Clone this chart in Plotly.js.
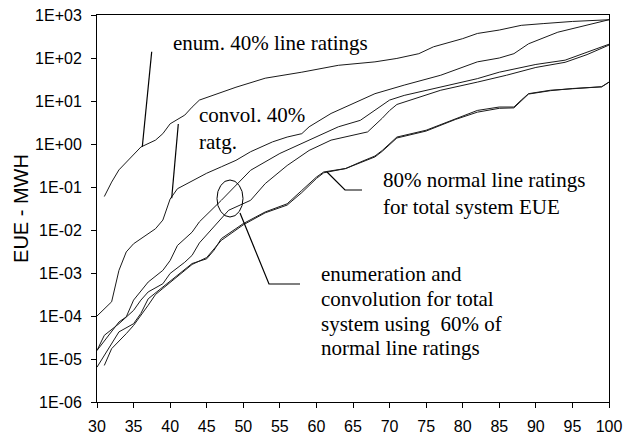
<!DOCTYPE html>
<html>
<head>
<meta charset="utf-8">
<script src="https://cdn.plot.ly/plotly-3.0.1.min.js"></script>
<style>html,body{margin:0;padding:0;background:#fff;}#chart{width:634px;height:435px;}</style>
</head>
<body>
<div id="chart"></div>
<script>
// enumeration, 40% line ratings
const xEnum40 = [31,32,33,35,36,38,39,40,42,43,44,49,53,58,63,68,71,74,76,80,82,85,88,91,95,100];
const yEnum40 = [0.060,0.13,0.25,0.55,0.85,1.23,1.74,2.95,4.7,7.2,10.5,20.9,33.9,46.8,67.6,81.3,97.7,126,182,282,372,447,575,631,708,776];
// convolution, 40% line ratings
const xConv40 = [30,32,33,34,35,37,38,39,40,41,43,45,47,49,51,54,56,58,59,60,62,65,68,72,77,82,85,87,89,93,100];
const yConv40 = [1.0e-4,2.14e-4,1.15e-3,3.09e-3,4.79e-3,7.94e-3,1.07e-2,1.70e-2,5.25e-2,9.12e-2,0.141,0.209,0.295,0.417,0.661,1.12,1.45,1.74,2.51,3.16,5.13,8.71,14.8,23.4,39.8,81.3,100,126,214,398,776];
// 60% of normal line ratings (two methods)
const x60a = [30,32,33,34,35,37,39,40,41,43,44,47,49,51,55,58,60,63,66,68,70,72,77,82,85,90,94,97,100];
const y60a = [1.58e-5,4.27e-5,7.24e-5,9.55e-5,2.34e-4,6.17e-4,1.15e-3,1.95e-3,4.37e-3,8.91e-3,1.55e-2,4.90e-2,0.110,0.245,0.603,1.02,1.45,2.51,3.55,6.03,10.5,13.5,21.4,33.1,46.8,70.8,89.1,138,209];
const x60b = [30,31,33,35,36,37,39,40,42,43,44,46,48,51,53,56,58,59,62,63,67,69,70,71,77,82,86,90,94,97,100];
const y60b = [1.58e-5,3.55e-5,6.61e-5,1.35e-4,2.34e-4,3.63e-4,5.62e-4,9.77e-4,1.78e-3,2.57e-3,5.01e-3,1.17e-2,2.88e-2,4.90e-2,0.120,0.316,0.525,0.708,1.23,1.35,1.91,3.98,6.0,8.3,17.8,27.5,39.8,60.3,79.4,120,200];
// 80% normal line ratings (two methods)
const x80a = [30,32,33,35,36,37,39,41,43,45,46,47,50,53,56,58,60,61,64,66,68,69,71,75,79,82,85,87,88,89,92,95,99,100];
const y80a = [6.46e-6,2.29e-5,4.27e-5,6.61e-5,1.15e-4,2.51e-4,4.68e-4,8.91e-4,1.66e-3,2.14e-3,3.39e-3,6.31e-3,1.41e-2,2.63e-2,4.07e-2,8.32e-2,0.170,0.224,0.269,0.380,0.525,0.708,1.45,2.09,3.89,6.03,7.24,7.24,10.5,14.8,17.8,19.5,21.4,27.5];
const x80b = [31,32,34,35,37,38,39,41,43,45,46,47,50,53,56,58,60,61,64,66,68,69,71,75,79,82,85,87,88,89,92,95,99,100];
const y80b = [7.08e-6,1.74e-5,3.89e-5,6.03e-5,1.78e-4,3.16e-4,4.37e-4,8.51e-4,1.58e-3,2.29e-3,3.55e-3,5.75e-3,1.32e-2,2.51e-2,3.80e-2,7.41e-2,0.158,0.214,0.269,0.363,0.501,0.676,1.38,2.00,3.72,5.50,6.76,6.92,10.0,14.5,17.4,19.5,21.4,27.5];

const xTicks = [30,35,40,45,50,55,60,65,70,75,80,85,90,95,100];
const yTickVals = [1e-6,1e-5,1e-4,1e-3,1e-2,1e-1,1e0,1e1,1e2,1e3];
const yTickText = ['1E-06','1E-05','1E-04','1E-03','1E-02','1E-01','1E+00','1E+01','1E+02','1E+03'];

const series = [[xEnum40,yEnum40],[xConv40,yConv40],[x60a,y60a],[x60b,y60b],[x80a,y80a],[x80b,y80b]];
const traces = series.map(s => ({
  x: s[0], y: s[1], type: 'scatter', mode: 'lines',
  line: {color: '#1a1a1a', width: 1}, hoverinfo: 'skip', showlegend: false
}));

// pixel helpers for annotation/shape placement (plot area 97..609 x 15..402)
const L = 97, R = 609, T = 15, B = 402;
const px = v => (v - L) / (R - L);
const py = v => (B - v) / (B - T);

const serif = {family: 'Liberation Serif, Times New Roman, Times, serif', size: 21, color: '#000'};
function label(text, xPix, yPix) {
  return {text: text, xref: 'paper', yref: 'paper', x: px(xPix), y: py(yPix),
          xanchor: 'left', yanchor: 'middle', showarrow: false, font: serif};
}
const annotations = [
  label('enum. 40% line ratings', 171, 43),
  label('convol. 40%', 197, 115),
  label('ratg.', 197, 142),
  label('80% normal line ratings', 381, 180),
  label('for total system EUE', 381, 207),
  label('enumeration and', 319, 274),
  label('convolution for total', 319, 299),
  label('system using\u00a0 60% of', 319, 324),
  label('normal line ratings', 319, 348)
];

const ln = {color: '#000', width: 1.2};
const shapes = [
  {type: 'line', xref: 'paper', yref: 'paper', x0: px(151.7), y0: py(51.7), x1: px(142.3), y1: py(146.7), line: ln},
  {type: 'line', xref: 'paper', yref: 'paper', x0: px(178.3), y0: py(124), x1: px(171.7), y1: py(198.3), line: ln},
  {type: 'path', xref: 'paper', yref: 'paper',
   path: 'M ' + px(240) + ' ' + py(213) + ' L ' + px(269) + ' ' + py(284) + ' L ' + px(300) + ' ' + py(284), line: ln},
  {type: 'path', xref: 'paper', yref: 'paper',
   path: 'M ' + px(327) + ' ' + py(172) + ' L ' + px(345) + ' ' + py(190) + ' L ' + px(362) + ' ' + py(190), line: ln},
  {type: 'circle', xref: 'paper', yref: 'paper', x0: px(217), x1: px(243), y0: py(217), y1: py(180), line: {color: '#000', width: 1}}
];

const tickFont = {family: 'Liberation Sans, Arial, sans-serif', size: 16, color: '#000'};
const layout = {
  width: 634, height: 435,
  margin: {l: L, r: 634 - R, t: T, b: 435 - B, pad: 0},
  paper_bgcolor: '#fff', plot_bgcolor: '#fff',
  showlegend: false,
  xaxis: {
    range: [30, 100], tickvals: xTicks, ticktext: xTicks.map(String),
    ticks: 'outside', ticklen: 5, tickwidth: 1, tickcolor: '#000',
    showline: true, linecolor: '#000', linewidth: 1, mirror: true,
    showgrid: false, zeroline: false, tickfont: tickFont, ticklabelstandoff: 5
  },
  yaxis: {
    type: 'log', range: [-6, 3], tickvals: yTickVals, ticktext: yTickText,
    ticks: 'outside', ticklen: 5, tickwidth: 1, tickcolor: '#000',
    showline: true, linecolor: '#000', linewidth: 1, mirror: true,
    showgrid: false, zeroline: false, tickfont: tickFont, ticklabelstandoff: 6,
    title: {text: 'EUE - MWH', font: {family: 'Liberation Sans, Arial, sans-serif', size: 20, color: '#000'}, standoff: 1}
  },
  annotations: annotations,
  shapes: shapes
};

Plotly.newPlot('chart', traces, layout, {staticPlot: true, displayModeBar: false});
</script>
</body>
</html>
